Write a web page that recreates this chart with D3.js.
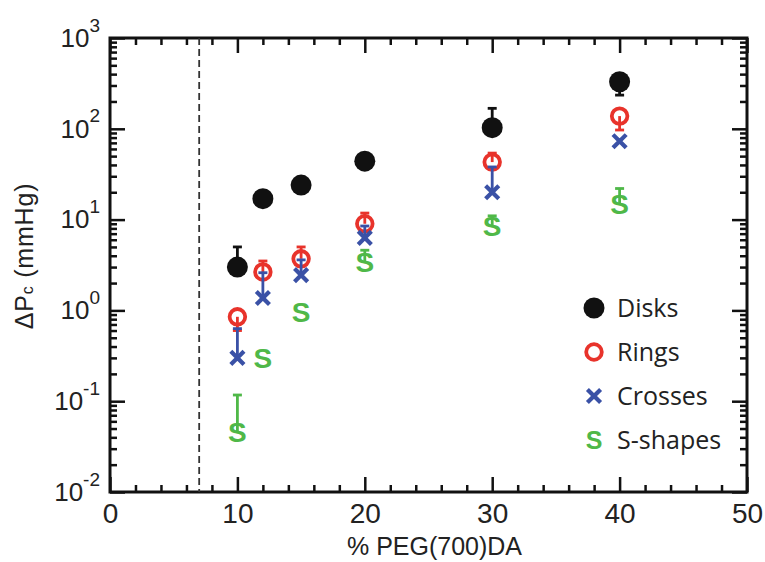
<!DOCTYPE html>
<html>
<head>
<meta charset="utf-8">
<script src="https://d3js.org/d3.v7.min.js"></script>
<style>
    body {
        margin: 0;
        background: #fff;
    }

    svg {
        display: block;
        font-family: "Liberation Sans", Arial, sans-serif;
    }

    .axis line {
        stroke: #111;
        stroke-width: 2.5px;
    }

    .axis text {
        fill: #222;
    }

    .legend .label {
        font-family: "Open Sans", sans-serif;
        font-size: 25px;
        fill: #222;
    }
</style>
</head>
<body>
<svg width="765" height="562"></svg>
<script>
    // values
    var peg = [10, 12, 15, 20, 30, 40];

    var disks = [3.0, 17, 24, 44, 103, 330];
    var disksHi = [5.0, null, null, null, 168, null];
    var disksLo = [null, null, null, null, null, 235];

    var rings = [0.85, 2.65, 3.7, 9.0, 43, 138];
    var ringsHi = [null, 3.5, 5.0, 11.8, 54, null];
    var ringsLo = [0.6, null, null, null, null, 97];

    var crosses = [0.30, 1.37, 2.45, 6.3, 20, 73];
    var crossesHi = [0.63, 2.6, 3.6, 8.5, 38, null];
    var crossesLo = [null, null, null, null, null, null];

    var sshapes = [0.046, 0.30, 0.97, 3.4, 8.5, 15];
    var sshapesHi = [0.117, null, null, 4.6, 11, 22];
    var sshapesLo = [null, null, null, null, null, null];

    var seriesNames = ["Disks", "Rings", "Crosses", "S-shapes"];
    var seriesColors = ["#111111", "#e8332b", "#3a51a6", "#4fb848"];

    var xTicks = [0, 10, 20, 30, 40, 50];
    var yTicks = [1e-2, 1e-1, 1e0, 1e1, 1e2, 1e3];
    var threshold = [7];

    var series = [
        { name: seriesNames[0], kind: "disk", v: disks, hi: disksHi, lo: disksLo },
        { name: seriesNames[1], kind: "ring", v: rings, hi: ringsHi, lo: ringsLo },
        { name: seriesNames[2], kind: "cross", v: crosses, hi: crossesHi, lo: crossesLo },
        { name: seriesNames[3], kind: "s", v: sshapes, hi: sshapesHi, lo: sshapesLo }
    ];
    series.forEach(function (s, i) { s.color = seriesColors[i]; });

    var svg = d3.select("svg"),
        margin = { top: 38, right: 18, bottom: 70, left: 110 },
        width = +svg.attr("width") - margin.left - margin.right,
        height = +svg.attr("height") - margin.top - margin.bottom;

    var x = d3.scaleLinear().domain([0, 50]).range([0, width]);
    var y = d3.scaleLog().domain([1e-2, 1e3]).range([height, 0]);

    var g = svg.append("g")
        .attr("transform", "translate(" + margin.left + "," + margin.top + ")");

    // minor tick values
    var xMinor = d3.range(0, 50, 2).filter(function (d) { return d % 10 !== 0; });
    var yMinor = [];
    yTicks.slice(0, -1).forEach(function (d) {
        for (var k = 2; k < 10; k++) yMinor.push(d * k);
    });

    function noDomain(sel) { sel.select(".domain").remove(); }

    // bottom
    g.append("g").attr("class", "axis").attr("transform", "translate(0," + height + ")")
        .call(d3.axisBottom(x).tickValues(xMinor).tickSize(-7).tickSizeOuter(0).tickFormat(""))
        .call(noDomain);
    g.append("g").attr("class", "axis").attr("transform", "translate(0," + height + ")")
        .call(d3.axisBottom(x).tickValues(xTicks).tickSize(-15).tickSizeOuter(0).tickPadding(11))
        .call(noDomain)
        .selectAll("text").style("font-size", "28px");

    // top
    g.append("g").attr("class", "axis")
        .call(d3.axisTop(x).tickValues(xMinor).tickSize(-7).tickSizeOuter(0).tickFormat(""))
        .call(noDomain);
    g.append("g").attr("class", "axis")
        .call(d3.axisTop(x).tickValues(xTicks).tickSize(-15).tickSizeOuter(0).tickFormat(""))
        .call(noDomain);

    // left
    g.append("g").attr("class", "axis")
        .call(d3.axisLeft(y).tickValues(yMinor).tickSize(-7).tickSizeOuter(0).tickFormat(""))
        .call(noDomain);
    var yl = g.append("g").attr("class", "axis")
        .call(d3.axisLeft(y).tickValues(yTicks).tickSize(-15).tickSizeOuter(0).tickPadding(10))
        .call(noDomain);
    yl.selectAll("text").each(function (d) {
        var t = d3.select(this).text("10").style("font-size", "26px");
        t.append("tspan")
            .attr("dy", "-0.8em")
            .style("font-size", "19px")
            .text(Math.round(Math.log10(d)));
    });

    // right
    g.append("g").attr("class", "axis").attr("transform", "translate(" + width + ",0)")
        .call(d3.axisRight(y).tickValues(yMinor).tickSize(-7).tickSizeOuter(0).tickFormat(""))
        .call(noDomain);
    g.append("g").attr("class", "axis").attr("transform", "translate(" + width + ",0)")
        .call(d3.axisRight(y).tickValues(yTicks).tickSize(-15).tickSizeOuter(0).tickFormat(""))
        .call(noDomain);

    // frame
    g.append("rect")
        .attr("width", width)
        .attr("height", height)
        .attr("fill", "none")
        .attr("stroke", "#111")
        .attr("stroke-width", 3);

    // dashed threshold line
    g.selectAll(".threshold").data(threshold).enter().append("line")
        .attr("class", "threshold")
        .attr("x1", function (d) { return x(d); })
        .attr("x2", function (d) { return x(d); })
        .attr("y1", 0)
        .attr("y2", height)
        .attr("stroke", "#333")
        .attr("stroke-width", 1.8)
        .attr("stroke-dasharray", "7,4");

    // axis titles
    svg.append("text")
        .attr("x", margin.left + width / 2 + 6)
        .attr("y", 555)
        .attr("text-anchor", "middle")
        .style("font-size", "25px")
        .attr("fill", "#222")
        .text("% PEG(700)DA");

    var yt = svg.append("text")
        .attr("transform", "translate(33," + 256 + ") rotate(-90)")
        .attr("text-anchor", "middle")
        .style("font-size", "25px")
        .style("letter-spacing", "0.8px")
        .attr("fill", "#222");
    yt.append("tspan").text("\u0394P");
    yt.append("tspan").style("font-size", "16px").text("c");
    yt.append("tspan").text(" (mmHg)");

    // markers
    function drawMarker(sel, kind, color, sSize) {
        if (kind === "disk") {
            sel.append("circle").attr("r", 10.5).attr("fill", color);
        } else if (kind === "ring") {
            sel.append("circle").attr("r", 7.8).attr("fill", "none")
                .attr("stroke", color).attr("stroke-width", 3.8);
        } else if (kind === "cross") {
            sel.append("path").attr("d", d3.symbol(d3.symbolX, 115)())
                .attr("fill", "none").attr("stroke", color).attr("stroke-width", 4.2);
        } else {
            sel.append("text").attr("text-anchor", "middle").attr("dy", "0.36em")
                .style("font-family", "'Liberation Sans', Arial, sans-serif")
                .style("font-size", (sSize || 28) + "px").style("font-weight", "bold")
                .style("fill", color).text("S");
        }
    }

    series.forEach(function (s) {
        var pts = peg.map(function (p, i) {
            return { x: p, v: s.v[i], hi: s.hi[i], lo: s.lo[i] };
        });
        var sg = g.append("g");

        pts.forEach(function (d) {
            [d.hi, d.lo].forEach(function (e) {
                if (e == null) return;
                sg.append("line")
                    .attr("x1", x(d.x)).attr("x2", x(d.x))
                    .attr("y1", y(d.v)).attr("y2", y(e))
                    .attr("stroke", s.color).attr("stroke-width", 2.8);
                sg.append("line")
                    .attr("x1", x(d.x) - 4.5).attr("x2", x(d.x) + 4.5)
                    .attr("y1", y(e)).attr("y2", y(e))
                    .attr("stroke", s.color).attr("stroke-width", 2.8);
            });
        });

        sg.selectAll(".pt").data(pts).enter().append("g")
            .attr("transform", function (d) { return "translate(" + x(d.x) + "," + y(d.v) + ")"; })
            .each(function () { drawMarker(d3.select(this), s.kind, s.color); });
    });

    // legend
    var legend = svg.append("g").attr("class", "legend");
    var ly = d3.scaleLinear().domain([0, 3]).range([308, 440]);
    series.forEach(function (s, i) {
        var row = legend.append("g")
            .attr("transform", "translate(594," + ly(i) + ")");
        drawMarker(row.append("g"), s.kind, s.color, 25);
        row.append("text").attr("class", "label").attr("x", 23).attr("dy", "0.36em").text(s.name);
    });
</script>
</body>
</html>
